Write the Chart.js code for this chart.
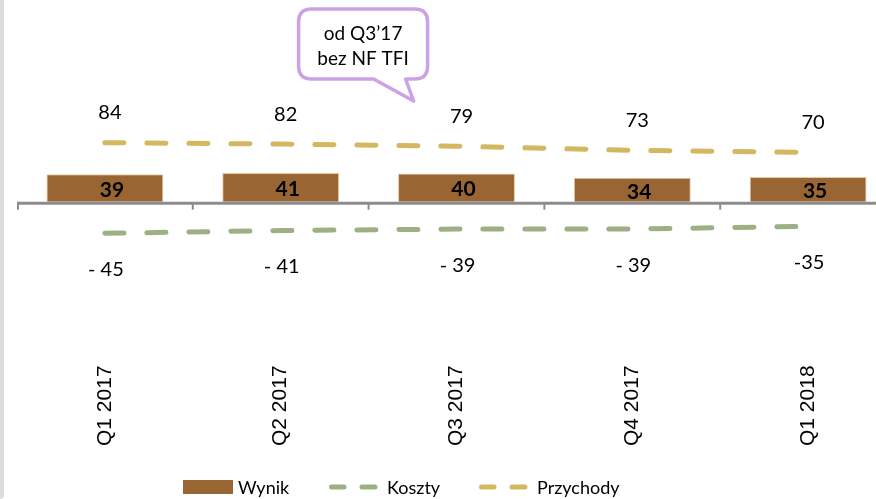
<!DOCTYPE html>
<html>
<head>
<meta charset="utf-8">
<script src="https://cdn.jsdelivr.net/npm/chart.js@4"></script>
<style>
  html, body { margin: 0; padding: 0; background: #fff; overflow: hidden; width: 876px; height: 499px; }
  #wrap { position: absolute; left: 0; top: 0; width: 896px; height: 499px; }
  #strip { position: absolute; left: 0; top: 0; width: 4px; height: 499px; background: #DCDCDC; z-index: 2; border-bottom-right-radius: 6px; }
</style>
</head>
<body>
<div id="strip"></div>
<div id="wrap"><canvas id="c" width="896" height="499"></canvas></div>
<script>
// ---- data ----
const categories = ['Q1 2017', 'Q2 2017', 'Q3 2017', 'Q4 2017', 'Q1 2018'];
const wynik = [39, 41, 40, 34, 35];
const koszty = [-45, -41, -39, -39, -35];
const kosztyLabels = ['- 45', '- 41', '- 39', '- 39', '-35'];
const przychody = [84, 82, 79, 73, 70];
const seriesNames = ['Wynik', 'Koszty', 'Przychody'];
const calloutLines = ['od Q3\u201917', 'bez NF TFI'];

// ---- styles ----
const COL_BAR = '#996633';
const COL_KOSZTY = '#9CB084';
const COL_PRZYCH = '#D3B85F';
const COL_AXIS = '#8C8C8C';
const COL_CALLOUT = '#CDA1E6';
const LEGEND_FONT = '18px Lato';

const overlay = {
  id: 'overlay',
  afterDatasetsDraw(chart) {
    const ctx = chart.ctx;
    const xs = chart.scales.x, ys = chart.scales.y;
    const area = chart.chartArea;
    const n = categories.length;
    const catW = (xs.getPixelForValue(1) - xs.getPixelForValue(0));
    const y0 = ys.getPixelForValue(0);
    ctx.save();
    // zero axis line
    ctx.strokeStyle = COL_AXIS;
    ctx.lineWidth = 3;
    ctx.beginPath();
    ctx.moveTo(area.left, y0 + 1.5);
    ctx.lineTo(area.right, y0 + 1.5);
    ctx.stroke();
    // tick marks at category boundaries
    ctx.lineWidth = 2;
    for (let i = 0; i <= n; i++) {
      const x = xs.getPixelForValue(0) - catW / 2 + i * catW + (i === 0 ? 1 : 0);
      ctx.beginPath();
      ctx.moveTo(x, y0 + 1);
      ctx.lineTo(x, y0 + 8);
      ctx.stroke();
    }
    // bar labels
    ctx.fillStyle = '#000';
    ctx.textAlign = 'center';
    ctx.textBaseline = 'middle';
    ctx.font = 'bold 21px Lato';
    chart.getDatasetMeta(0).data.forEach((el, i) => {
      ctx.fillText(String(wynik[i]), el.x + 7, (el.y + el.base) / 2 + 2);
    });
    // koszty labels
    ctx.font = '20px Lato';
    chart.getDatasetMeta(1).data.forEach((el, i) => {
      ctx.fillText(kosztyLabels[i], el.x + 1, el.y + 36);
    });
    // przychody labels
    chart.getDatasetMeta(2).data.forEach((el, i) => {
      ctx.fillText(String(przychody[i]), el.x + 5, el.y - 30);
    });
    ctx.restore();
  },
  afterDraw(chart) {
    const ctx = chart.ctx;
    const xs = chart.scales.x;
    ctx.save();
    // ---- callout ----
    const bx = (xs.getPixelForValue(1) + xs.getPixelForValue(2)) / 2;
    const L = bx - 70, R = bx + 59, T = 9, B = 79, r = 13;
    ctx.beginPath();
    ctx.moveTo(L + r, T);
    ctx.lineTo(R - r, T);
    ctx.quadraticCurveTo(R, T, R, T + r);
    ctx.lineTo(R, B - r);
    ctx.quadraticCurveTo(R, B, R - r, B);
    ctx.lineTo(bx + 37, B);
    ctx.lineTo(bx + 45, 101);
    ctx.lineTo(bx + 5, B);
    ctx.lineTo(L + r, B);
    ctx.quadraticCurveTo(L, B, L, B - r);
    ctx.lineTo(L, T + r);
    ctx.quadraticCurveTo(L, T, L + r, T);
    ctx.closePath();
    ctx.fillStyle = '#fff';
    ctx.fill();
    ctx.strokeStyle = COL_CALLOUT;
    ctx.lineWidth = 3.5;
    ctx.lineJoin = 'round';
    ctx.stroke();
    ctx.fillStyle = '#000';
    ctx.font = '19px Lato';
    ctx.textAlign = 'center';
    ctx.textBaseline = 'middle';
    ctx.fillText(calloutLines[0], (L + R) / 2, 34);
    ctx.fillText(calloutLines[1], (L + R) / 2, 59);

    // ---- legend ----
    const ly = 487;
    const itemX = [183, 329, 479];
    ctx.font = LEGEND_FONT;
    ctx.textAlign = 'left';
    ctx.textBaseline = 'middle';
    // Wynik
    ctx.fillStyle = COL_BAR;
    ctx.fillRect(itemX[0], ly - 7, 50, 14);
    ctx.fillStyle = '#000';
    ctx.fillText(seriesNames[0], itemX[0] + 55, ly + 1);
    // line entries
    [[COL_KOSZTY, seriesNames[1], itemX[1]], [COL_PRZYCH, seriesNames[2], itemX[2]]].forEach(([col, name, x]) => {
      ctx.strokeStyle = col;
      ctx.lineWidth = 5;
      ctx.lineCap = 'round';
      ctx.beginPath();
      ctx.moveTo(x + 2.5, ly); ctx.lineTo(x + 15, ly);
      ctx.moveTo(x + 33, ly); ctx.lineTo(x + 46, ly);
      ctx.stroke();
      ctx.fillStyle = '#000';
      ctx.fillText(name, x + 58, ly + 1);
    });
    ctx.restore();
  }
};

new Chart(document.getElementById('c'), {
  type: 'bar',
  data: {
    labels: categories,
    datasets: [
      {
        type: 'bar',
        label: seriesNames[0],
        data: wynik,
        backgroundColor: COL_BAR,
        borderColor: '#E8C9A0',
        borderWidth: 1,
        borderSkipped: 'bottom',
        barPercentage: 0.665,
        categoryPercentage: 1.0,
        order: 3
      },
      {
        type: 'line',
        label: seriesNames[1],
        data: koszty,
        borderColor: COL_KOSZTY,
        borderWidth: 5,
        borderDash: [19, 23],
        borderCapStyle: 'round',
        pointRadius: 0,
        tension: 0,
        fill: false,
        order: 1
      },
      {
        type: 'line',
        label: seriesNames[2],
        data: przychody,
        borderColor: COL_PRZYCH,
        borderWidth: 5,
        borderDash: [19, 23],
        borderCapStyle: 'round',
        pointRadius: 0,
        tension: 0,
        fill: false,
        order: 2
      }
    ]
  },
  options: {
    responsive: false,
    animation: false,
    events: [],
    layout: { padding: { left: 17, right: 0, top: 0, bottom: 53 } },
    plugins: { legend: { display: false }, tooltip: { enabled: false } },
    scales: {
      x: {
        grid: { display: false, drawTicks: false },
        border: { display: false },
        ticks: {
          minRotation: 90, maxRotation: 90, padding: 0,
          color: '#000',
          font: { family: 'Liberation Sans', size: 21 }
        }
      },
      y: {
        display: false,
        min: -233,
        max: 287
      }
    }
  },
  plugins: [overlay]
});
</script>
</body>
</html>
